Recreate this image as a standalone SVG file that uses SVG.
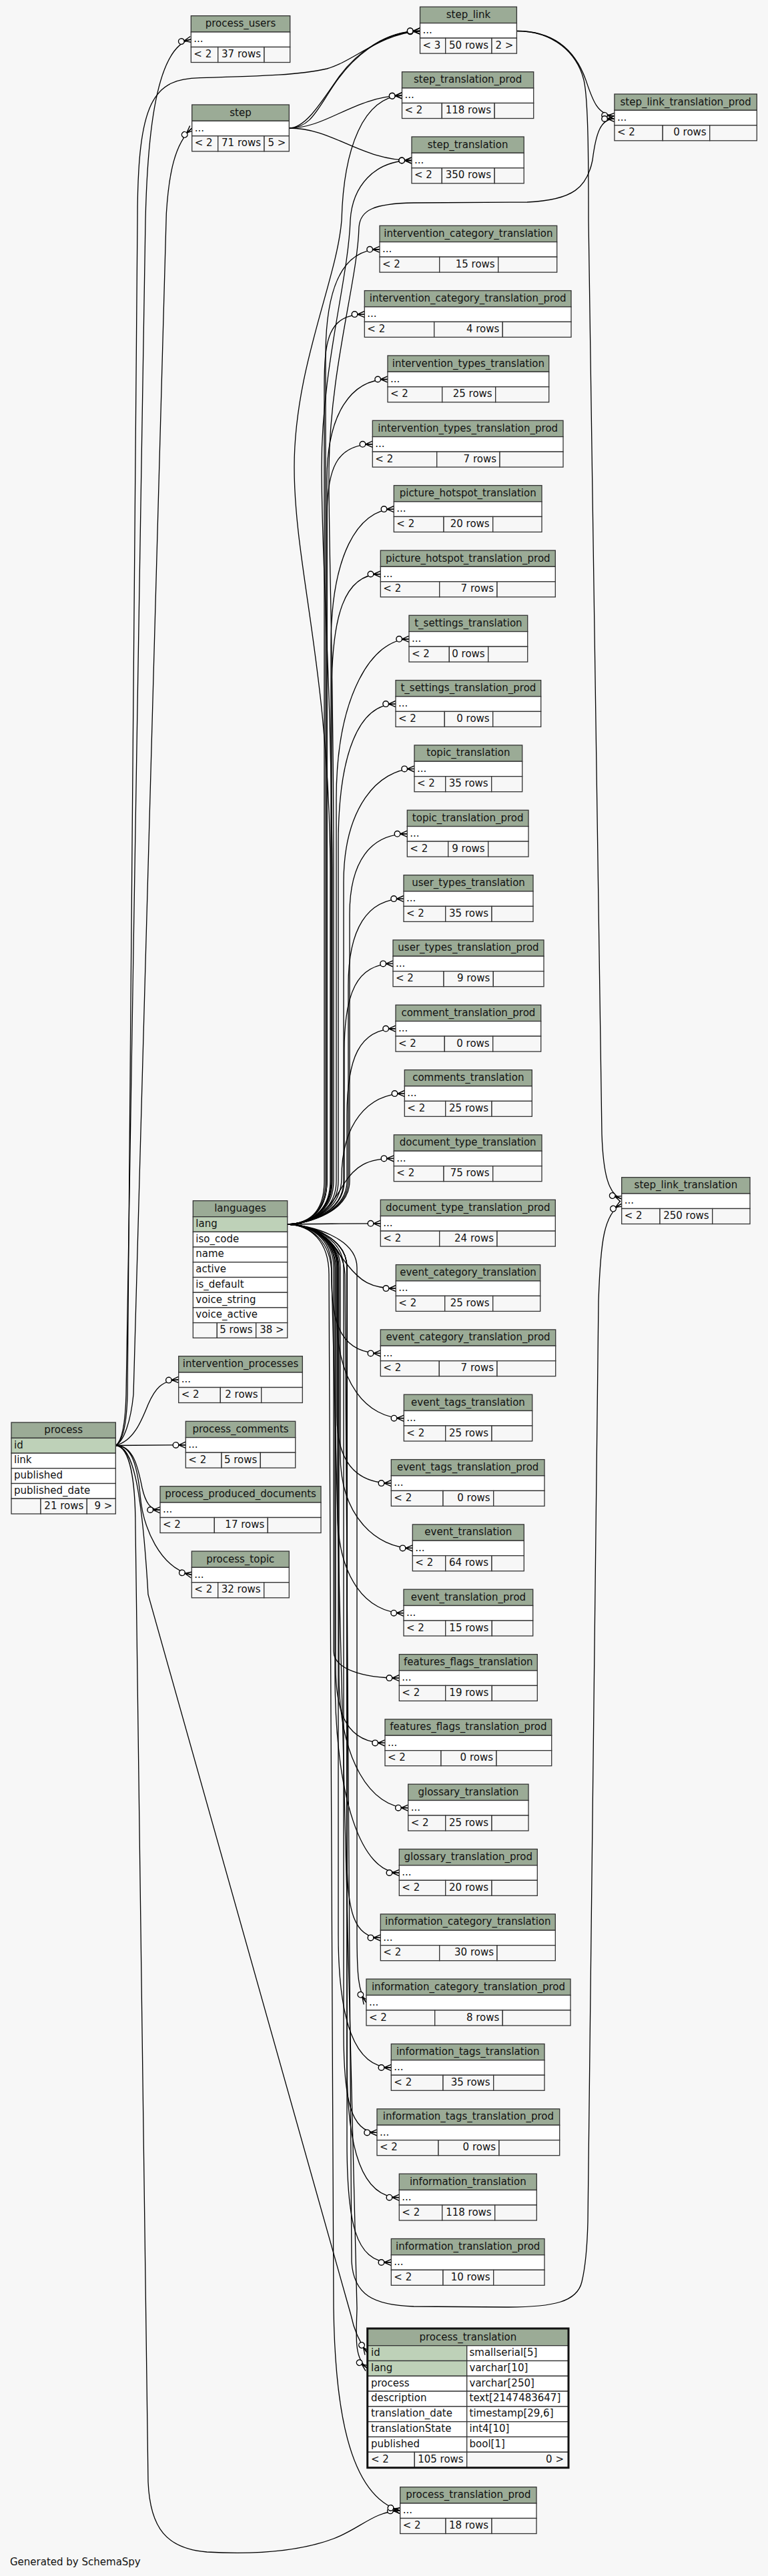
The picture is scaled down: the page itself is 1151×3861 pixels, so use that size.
<svg xmlns="http://www.w3.org/2000/svg" width="1151" height="3861" viewBox="0 0 1151 3861">
<defs>
<style>
.hd{fill:#9bab96;stroke:#333;stroke-width:1.3}
.rw{fill:#fff;stroke:#333;stroke-width:1.3}
.pk{fill:#bed1b8;stroke:#333;stroke-width:1.3}
.ft{fill:#f7f7f7;stroke:#333;stroke-width:1.3}
text{font-family:"DejaVu Sans",Verdana,sans-serif;font-size:15px;fill:#111}
.m{text-anchor:middle}
.e{text-anchor:end}
.ed path{fill:none;stroke:#000;stroke-width:1.3;marker-end:url(#crow)}
</style>
<marker id="crow" markerUnits="userSpaceOnUse" orient="auto" viewBox="-21 -8 22 16" refX="0" refY="0" markerWidth="22" markerHeight="16" overflow="visible">
<path d="M-10.5,0 L0,-4.6 M-10.5,0 L0,0 M-10.5,0 L0,4.6" fill="none" stroke="#000" stroke-width="1.4"/>
<circle cx="-14.8" cy="0" r="4.3" fill="#fff" stroke="#000" stroke-width="1.4"/>
</marker>
</defs>
<rect x="0" y="0" width="1151" height="3861" fill="#f7f7f7"/>

<g class="ed" id="connectors">
<!-- process edges -->
<path d="M173.3,2166.5 C183,2160 188,2130 189,2090 L218,330 C221,200 234,70 286.3,59"/>
<path d="M173.3,2166.5 C185,2160 190,2130 191,2090 L206,330 C206,150 230,118 300,116.7 C400,114 450,112 490,103 C530,92 570,50 629.5,46.5"/>
<path d="M173.3,2166.5 C186,2160 196,2130 200,2090 L249.3,320 C253,260 262,215 287.7,192"/>
<path d="M173.3,2166.5 C200,2160 212,2130 222,2105 C232,2082 242,2069 267.7,2068"/>
<path d="M173.3,2166.5 L278.3,2165.8"/>
<path d="M173.3,2166.5 C200,2166 207,2200 213,2230 C218,2252 225,2263 240,2263.2"/>
<path d="M173.3,2166.5 C195,2166 205,2190 210,2240 C214,2290 240,2350 287.3,2360.5"/>
<path d="M173.3,2166.5 C198,2168 212,2220 222,2390 L526,3470 C530,3490 537,3508 550.7,3527"/>
<path d="M173.3,2166.5 C195,2168 203,2220 203,2290 L222,3720 C225,3790 250,3820 310,3825 C400,3830 460,3820 500,3805 C540,3790 560,3764 599.7,3763"/>
<!-- step edges -->
<path d="M433.3,192 C465,192 475,165 500,128 C525,90 570,47 629.5,46.5"/>
<path d="M433.3,192 C458,192 480,155 508,115 C535,78 580,46 629.5,46.5"/>
<path d="M433.3,192 C490,192 530,145 602.5,143.2"/>
<path d="M433.3,192 C500,192 540,240.5 617,240.5"/>
<!-- step_link edges -->
<path d="M774.4,46.5 C830,46.5 862,75 878,120 C888,150 895,172 920.9,174"/>
<path d="M774.4,46.5 C830,46.5 865,80 875,120 C882,150 882,250 882,330 L902,1700 C904,1760 912,1790 931.7,1797"/>
<!-- languages edges -->
<path d="M430.7,1835 C465,1834 495,1815 495,1770 L495,1300 C493,1000 441,850 441,700 C441,550 505,420 512,330 C515,220 545,146 602.5,143.2"/>
<path d="M430.7,1835 C465,1834 498,1815 498,1770 L498,1300 C496,1000 482,850 482,700 C482,550 522,420 525,330 C528,280 560,240.5 617,240.5"/>
<path d="M430.7,1835 C465,1834 500,1815 500,1770 L500,1300 C500,1000 492,800 493,700 C495,550 536,420 538,340 C540,315 560,305 620,304 L790,303 C860,300 880,280 888,240 C893,200 900,178 920.9,178"/>
<path d="M430.7,1835 C465,1836 515,1860 517,1910 L527,3390 C530,3440 560,3455 620,3457 L760,3458 C830,3458 865,3450 872,3420 C878,3395 880,3370 881,3330 L897,1950 C900,1860 905,1820 931.7,1804"/>
<path d="M430.7,1835 C465,1834 488,1815 488,1770 L488,533.8 C488,429.8 514,373.8 569,373.8"/>
<path d="M430.7,1835 C465,1834 486,1815 486,1770 L486,581.1 C486,509.6 491.3,471.1 546.3,471.1"/>
<path d="M430.7,1835 C465,1834 490,1815 490,1770 L490,718.5 C490,621 526,568.5 581,568.5"/>
<path d="M430.7,1835 C465,1834 490,1815 490,1770 L490,775.8 C490,704.3 503.3,665.8 558.3,665.8"/>
<path d="M430.7,1835 C465,1834 496,1815 496,1770 L496,968.1 C496,834.9 535.3,763.1 590.3,763.1"/>
<path d="M430.7,1835 C465,1834 497,1815 497,1770 L497,1040.5 C497,923.5 515.3,860.5 570.3,860.5"/>
<path d="M430.7,1835 C465,1834 504,1815 504,1770 L504,1197.8 C504,1041.8 558,957.8 613,957.8"/>
<path d="M430.7,1835 C465,1834 507,1815 507,1770 L507,1265.1 C507,1128.6 538,1055.1 593,1055.1"/>
<path d="M430.7,1835 C465,1834 515,1815 515,1770 L515,1322.4 C515,1211.9 566,1152.4 621,1152.4"/>
<path d="M430.7,1835 C465,1834 524,1815 524,1770 L524,1369.8 C524,1291.8 555.3,1249.8 610.3,1249.8"/>
<path d="M430.7,1835 C465,1834 522,1815 522,1770 L522,1477.1 C522,1392.6 550,1347.1 605,1347.1"/>
<path d="M430.7,1835 C465,1834 516,1815 516,1770 L516,1574.4 C516,1489.9 534,1444.4 589,1444.4"/>
<path d="M430.7,1835 C465,1834 520,1815 520,1770 L520,1671.8 C520,1587.3 538,1541.8 593,1541.8"/>
<path d="M430.7,1835 C465,1834 512,1815 512,1765 C512,1684.6 551.3,1639.1 606.3,1639.1"/>
<path d="M430.7,1835 C478,1833 498,1805 515,1775 C532,1748 550,1736.4 590.3,1736.4"/>
<path d="M430.7,1835 C480,1834.5 520,1833.8 570.3,1833.8"/>
<path d="M430.7,1835 C485,1836 500,1870 520,1895 C540,1920 555,1931.1 593.3,1931.1"/>
<path d="M430.7,1835 C465,1836 497,1855 497,1900 L497,1918.4 C497,1989.9 515.3,2028.4 570.3,2028.4"/>
<path d="M430.7,1835 C465,1836 505,1855 505,1900 L505,1975.7 C505,2073.2 550.3,2125.7 605.3,2125.7"/>
<path d="M430.7,1835 C465,1836 505,1855 505,1900 L505,2123.1 C505,2188.1 531.3,2223.1 586.3,2223.1"/>
<path d="M430.7,1835 C465,1836 510,1855 510,1900 L510,2180.4 C510,2271.4 563.3,2320.4 618.3,2320.4"/>
<path d="M430.7,1835 C465,1836 506,1855 506,1900 L506,2267.7 C506,2365.2 550,2417.7 605,2417.7"/>
<path d="M430.7,1835 C465,1836 500,1855 500,1900 L500,2475.1 C500,2501.1 543.3,2515.1 598.3,2515.1"/>
<path d="M430.7,1835 C465,1836 503,1855 503,1900 L503,2497.4 C503,2572.2 522,2612.4 577,2612.4"/>
<path d="M430.7,1835 C465,1836 508,1855 508,1900 L508,2509.7 C508,2639.7 556.7,2709.7 611.7,2709.7"/>
<path d="M430.7,1835 C465,1836 502,1855 502,1900 L502,2507 C502,2702 543.3,2807 598.3,2807"/>
<path d="M430.7,1835 C465,1836 520,1855 520,1900 L520,2784.4 C520,2862.4 530.3,2904.4 570.3,2904.4"/>
<path d="M430.7,1835 C465,1836 535,1855 535,1900 L535,2900 C535,2960 537,2985 549,3001.7"/>
<path d="M430.7,1835 C465,1836 507,1855 507,1900 L507,2899 C507,3029 531.3,3099 586.3,3099"/>
<path d="M430.7,1835 C465,1836 515,1855 515,1900 L515,3046.4 C515,3143.9 525,3196.4 565,3196.4"/>
<path d="M430.7,1835 C465,1836 520,1855 520,1900 L520,3093.7 C520,3223.7 543.3,3293.7 598.3,3293.7"/>
<path d="M430.7,1835 C465,1836 520,1855 520,1900 L520,3211 C520,3328 531.3,3391 586.3,3391"/>
<path d="M430.7,1835 C465,1836 497,1860 497,1910 L535,3460 C534,3500 530,3535 550.7,3549.8"/>
<path d="M430.7,1835 C465,1836 493,1860 493,1910 L500,3460 C502,3600 520,3740 599.7,3763"/>
</g>

<!-- left column -->
<g id="process_users">
<rect class="hd" x="286.3" y="23.7" width="148.4" height="24.3"/><rect class="rw" x="286.3" y="48" width="148.4" height="22.5"/>
<rect class="ft" x="286.3" y="70.5" width="40.4" height="23"/><rect class="ft" x="326.7" y="70.5" width="69.3" height="23"/><rect class="ft" x="396" y="70.5" width="38.7" height="23"/>
<text class="m" x="360.5" y="40.2">process_users</text><text x="290.3" y="63.3">...</text><text x="290.3" y="86">&lt; 2</text><text class="e" x="391" y="86">37 rows</text>
</g>
<g id="step">
<rect class="hd" x="287.7" y="157" width="145.6" height="24.3"/><rect class="rw" x="287.7" y="181.3" width="145.6" height="22.5"/>
<rect class="ft" x="287.7" y="203.8" width="39" height="23"/><rect class="ft" x="326.7" y="203.8" width="69.3" height="23"/><rect class="ft" x="396" y="203.8" width="37.3" height="23"/>
<text class="m" x="360.5" y="173.5">step</text><text x="291.7" y="196.6">...</text><text x="291.7" y="219.3">&lt; 2</text><text class="e" x="391" y="219.3">71 rows</text><text class="e" x="428.3" y="219.3">5 &gt;</text>
</g>
<g id="languages">
<rect class="hd" x="289.3" y="1799.7" width="141.4" height="24"/>
<rect class="pk" x="289.3" y="1823.7" width="141.4" height="22.7"/>
<rect class="rw" x="289.3" y="1846.4" width="141.4" height="22.7"/>
<rect class="rw" x="289.3" y="1869.1" width="141.4" height="22.7"/>
<rect class="rw" x="289.3" y="1891.8" width="141.4" height="22.7"/>
<rect class="rw" x="289.3" y="1914.5" width="141.4" height="22.7"/>
<rect class="rw" x="289.3" y="1937.2" width="141.4" height="22.7"/>
<rect class="rw" x="289.3" y="1959.9" width="141.4" height="22.7"/>
<rect class="ft" x="289.3" y="1982.6" width="36" height="22.7"/><rect class="ft" x="325.3" y="1982.6" width="58.4" height="22.7"/><rect class="ft" x="383.7" y="1982.6" width="47" height="22.7"/>
<text class="m" x="360" y="1816">languages</text>
<text x="293.3" y="1839">lang</text><text x="293.3" y="1861.7">iso_code</text><text x="293.3" y="1884.4">name</text><text x="293.3" y="1907.1">active</text><text x="293.3" y="1929.8">is_default</text><text x="293.3" y="1952.5">voice_string</text><text x="293.3" y="1975.2">voice_active</text>
<text class="e" x="378.7" y="1997.9">5 rows</text><text class="e" x="425.7" y="1997.9">38 &gt;</text>
</g>
<g id="intervention_processes">
<rect class="hd" x="267.7" y="2032.7" width="185.6" height="24.3"/><rect class="rw" x="267.7" y="2057" width="185.6" height="22.5"/>
<rect class="ft" x="267.7" y="2079.5" width="62.6" height="23"/><rect class="ft" x="330.3" y="2079.5" width="61.4" height="23"/><rect class="ft" x="391.7" y="2079.5" width="61.6" height="23"/>
<text class="m" x="360.5" y="2049.2">intervention_processes</text><text x="271.7" y="2072.3">...</text><text x="271.7" y="2095">&lt; 2</text><text class="e" x="386.7" y="2095">2 rows</text>
</g>
<g id="process_comments">
<rect class="hd" x="278.3" y="2130.3" width="164.4" height="24.3"/><rect class="rw" x="278.3" y="2154.6" width="164.4" height="22.5"/>
<rect class="ft" x="278.3" y="2177.1" width="53.7" height="23"/><rect class="ft" x="332" y="2177.1" width="58.3" height="23"/><rect class="ft" x="390.3" y="2177.1" width="52.4" height="23"/>
<text class="m" x="360.5" y="2146.8">process_comments</text><text x="282.3" y="2169.9">...</text><text x="282.3" y="2192.6">&lt; 2</text><text class="e" x="385.3" y="2192.6">5 rows</text>
</g>
<g id="process_produced_documents">
<rect class="hd" x="240" y="2227.7" width="241" height="24.3"/><rect class="rw" x="240" y="2252" width="241" height="22.5"/>
<rect class="ft" x="240" y="2274.5" width="81.3" height="23"/><rect class="ft" x="321.3" y="2274.5" width="80" height="23"/><rect class="ft" x="401.3" y="2274.5" width="79.7" height="23"/>
<text class="m" x="360.5" y="2244.2">process_produced_documents</text><text x="244" y="2267.3">...</text><text x="244" y="2290">&lt; 2</text><text class="e" x="396.3" y="2290">17 rows</text>
</g>
<g id="process_topic">
<rect class="hd" x="287.3" y="2325" width="146" height="24.3"/><rect class="rw" x="287.3" y="2349.3" width="146" height="22.5"/>
<rect class="ft" x="287.3" y="2371.8" width="39.4" height="23"/><rect class="ft" x="326.7" y="2371.8" width="69" height="23"/><rect class="ft" x="395.7" y="2371.8" width="37.6" height="23"/>
<text class="m" x="360.3" y="2341.5">process_topic</text><text x="291.3" y="2364.6">...</text><text x="291.3" y="2387.3">&lt; 2</text><text class="e" x="390.7" y="2387.3">32 rows</text>
</g>
<g id="process">
<rect class="hd" x="17" y="2132" width="156.3" height="23.4"/>
<rect class="pk" x="17" y="2155.4" width="156.3" height="22.7"/>
<rect class="rw" x="17" y="2178.1" width="156.3" height="22.7"/>
<rect class="rw" x="17" y="2200.8" width="156.3" height="22.7"/>
<rect class="rw" x="17" y="2223.5" width="156.3" height="22.7"/>
<rect class="ft" x="17" y="2246.2" width="44" height="22.8"/><rect class="ft" x="61" y="2246.2" width="69.3" height="22.8"/><rect class="ft" x="130.3" y="2246.2" width="43" height="22.8"/>
<text class="m" x="95.2" y="2148">process</text>
<text x="21" y="2170.7">id</text><text x="21" y="2193.4">link</text><text x="21" y="2216.1">published</text><text x="21" y="2238.8">published_date</text>
<text class="e" x="125.3" y="2261.5">21 rows</text><text class="e" x="168.3" y="2261.5">9 &gt;</text>
</g>

<!-- top right -->
<g id="step_link">
<rect class="hd" x="629.5" y="10.3" width="144.9" height="24.3"/><rect class="rw" x="629.5" y="34.6" width="144.9" height="22.5"/>
<rect class="ft" x="629.5" y="57.1" width="38.2" height="23"/><rect class="ft" x="667.7" y="57.1" width="69.3" height="23"/><rect class="ft" x="737" y="57.1" width="37.4" height="23"/>
<text class="m" x="702" y="26.8">step_link</text><text x="633.5" y="49.9">...</text><text x="633.5" y="72.6">&lt; 3</text><text class="e" x="732" y="72.6">50 rows</text><text class="e" x="769.4" y="72.6">2 &gt;</text>
</g>
<g id="step_translation_prod">
<rect class="hd" x="602.5" y="107.7" width="197.2" height="24.3"/><rect class="rw" x="602.5" y="132" width="197.2" height="22.5"/>
<rect class="ft" x="602.5" y="154.5" width="59.8" height="23"/><rect class="ft" x="662.3" y="154.5" width="78.9" height="23"/><rect class="ft" x="741.2" y="154.5" width="58.5" height="23"/>
<text class="m" x="701.1" y="124.2">step_translation_prod</text><text x="606.5" y="147.3">...</text><text x="606.5" y="170">&lt; 2</text><text class="e" x="736.2" y="170">118 rows</text>
</g>
<g id="step_translation">
<rect class="hd" x="617" y="205" width="168.2" height="24.3"/><rect class="rw" x="617" y="229.3" width="168.2" height="22.5"/>
<rect class="ft" x="617" y="251.8" width="45.3" height="23"/><rect class="ft" x="662.3" y="251.8" width="78.9" height="23"/><rect class="ft" x="741.2" y="251.8" width="44" height="23"/>
<text class="m" x="701.1" y="221.5">step_translation</text><text x="621" y="244.6">...</text><text x="621" y="267.3">&lt; 2</text><text class="e" x="736.2" y="267.3">350 rows</text>
</g>
<g id="step_link_translation_prod">
<rect class="hd" x="920.9" y="141" width="213.4" height="24.3"/><rect class="rw" x="920.9" y="165.3" width="213.4" height="22.5"/>
<rect class="ft" x="920.9" y="187.8" width="72.3" height="23"/><rect class="ft" x="993.2" y="187.8" width="70.5" height="23"/><rect class="ft" x="1063.7" y="187.8" width="70.6" height="23"/>
<text class="m" x="1027.6" y="157.5">step_link_translation_prod</text><text x="924.9" y="180.6">...</text><text x="924.9" y="203.3">&lt; 2</text><text class="e" x="1058.7" y="203.3">0 rows</text>
</g>
<g id="step_link_translation">
<rect class="hd" x="931.7" y="1764.7" width="192.3" height="24.3"/><rect class="rw" x="931.7" y="1789" width="192.3" height="22.5"/>
<rect class="ft" x="931.7" y="1811.5" width="57.3" height="23"/><rect class="ft" x="989" y="1811.5" width="78.7" height="23"/><rect class="ft" x="1067.7" y="1811.5" width="56.3" height="23"/>
<text class="m" x="1027.9" y="1781.2">step_link_translation</text><text x="935.7" y="1804.3">...</text><text x="935.7" y="1827">&lt; 2</text><text class="e" x="1062.7" y="1827">250 rows</text>
</g>

<!-- right column -->
<g id="intervention_category_translation"><rect class="hd" x="569" y="338.3" width="265.7" height="24.3"/><rect class="rw" x="569" y="362.6" width="265.7" height="22.5"/><rect class="ft" x="569" y="385.1" width="89.7" height="23"/><rect class="ft" x="658.7" y="385.1" width="88" height="23"/><rect class="ft" x="746.7" y="385.1" width="88" height="23"/><text class="m" x="701.9" y="354.8">intervention_category_translation</text><text x="573" y="377.9">...</text><text x="573" y="400.6">&lt; 2</text><text class="e" x="741.7" y="400.6">15 rows</text></g>
<g id="intervention_category_translation_prod"><rect class="hd" x="546.3" y="435.6" width="309.7" height="24.3"/><rect class="rw" x="546.3" y="459.9" width="309.7" height="22.5"/><rect class="ft" x="546.3" y="482.4" width="104.4" height="23"/><rect class="ft" x="650.7" y="482.4" width="102.6" height="23"/><rect class="ft" x="753.3" y="482.4" width="102.7" height="23"/><text class="m" x="701.2" y="452.1">intervention_category_translation_prod</text><text x="550.3" y="475.2">...</text><text x="550.3" y="497.9">&lt; 2</text><text class="e" x="748.3" y="497.9">4 rows</text></g>
<g id="intervention_types_translation"><rect class="hd" x="581" y="533" width="241.7" height="24.3"/><rect class="rw" x="581" y="557.3" width="241.7" height="22.5"/><rect class="ft" x="581" y="579.8" width="81.7" height="23"/><rect class="ft" x="662.7" y="579.8" width="80" height="23"/><rect class="ft" x="742.7" y="579.8" width="80" height="23"/><text class="m" x="701.9" y="549.5">intervention_types_translation</text><text x="585" y="572.6">...</text><text x="585" y="595.3">&lt; 2</text><text class="e" x="737.7" y="595.3">25 rows</text></g>
<g id="intervention_types_translation_prod"><rect class="hd" x="558.3" y="630.3" width="285.7" height="24.3"/><rect class="rw" x="558.3" y="654.6" width="285.7" height="22.5"/><rect class="ft" x="558.3" y="677.1" width="96.4" height="23"/><rect class="ft" x="654.7" y="677.1" width="94.3" height="23"/><rect class="ft" x="749" y="677.1" width="95" height="23"/><text class="m" x="701.2" y="646.8">intervention_types_translation_prod</text><text x="562.3" y="669.9">...</text><text x="562.3" y="692.6">&lt; 2</text><text class="e" x="744" y="692.6">7 rows</text></g>
<g id="picture_hotspot_translation"><rect class="hd" x="590.3" y="727.6" width="221.7" height="24.3"/><rect class="rw" x="590.3" y="751.9" width="221.7" height="22.5"/><rect class="ft" x="590.3" y="774.4" width="74.7" height="23"/><rect class="ft" x="665" y="774.4" width="73.7" height="23"/><rect class="ft" x="738.7" y="774.4" width="73.3" height="23"/><text class="m" x="701.2" y="744.1">picture_hotspot_translation</text><text x="594.3" y="767.2">...</text><text x="594.3" y="789.9">&lt; 2</text><text class="e" x="733.7" y="789.9">20 rows</text></g>
<g id="picture_hotspot_translation_prod"><rect class="hd" x="570.3" y="825" width="262" height="24.3"/><rect class="rw" x="570.3" y="849.3" width="262" height="22.5"/><rect class="ft" x="570.3" y="871.8" width="88.4" height="23"/><rect class="ft" x="658.7" y="871.8" width="86.3" height="23"/><rect class="ft" x="745" y="871.8" width="87.3" height="23"/><text class="m" x="701.3" y="841.5">picture_hotspot_translation_prod</text><text x="574.3" y="864.6">...</text><text x="574.3" y="887.3">&lt; 2</text><text class="e" x="740" y="887.3">7 rows</text></g>
<g id="t_settings_translation"><rect class="hd" x="613" y="922.3" width="177.7" height="24.3"/><rect class="rw" x="613" y="946.6" width="177.7" height="22.5"/><rect class="ft" x="613" y="969.1" width="60.3" height="23"/><rect class="ft" x="673.3" y="969.1" width="58.4" height="23"/><rect class="ft" x="731.7" y="969.1" width="59" height="23"/><text class="m" x="701.9" y="938.8">t_settings_translation</text><text x="617" y="961.9">...</text><text x="617" y="984.6">&lt; 2</text><text class="e" x="726.7" y="984.6">0 rows</text></g>
<g id="t_settings_translation_prod"><rect class="hd" x="593" y="1019.6" width="217.7" height="24.3"/><rect class="rw" x="593" y="1043.9" width="217.7" height="22.5"/><rect class="ft" x="593" y="1066.4" width="73.3" height="23"/><rect class="ft" x="666.3" y="1066.4" width="72.4" height="23"/><rect class="ft" x="738.7" y="1066.4" width="72" height="23"/><text class="m" x="701.9" y="1036.1">t_settings_translation_prod</text><text x="597" y="1059.2">...</text><text x="597" y="1081.9">&lt; 2</text><text class="e" x="733.7" y="1081.9">0 rows</text></g>
<g id="topic_translation"><rect class="hd" x="621" y="1116.9" width="161.7" height="24.3"/><rect class="rw" x="621" y="1141.2" width="161.7" height="22.5"/><rect class="ft" x="621" y="1163.7" width="46.7" height="23"/><rect class="ft" x="667.7" y="1163.7" width="69" height="23"/><rect class="ft" x="736.7" y="1163.7" width="46" height="23"/><text class="m" x="701.9" y="1133.4">topic_translation</text><text x="625" y="1156.5">...</text><text x="625" y="1179.2">&lt; 2</text><text class="e" x="731.7" y="1179.2">35 rows</text></g>
<g id="topic_translation_prod"><rect class="hd" x="610.3" y="1214.3" width="181.7" height="24.3"/><rect class="rw" x="610.3" y="1238.6" width="181.7" height="22.5"/><rect class="ft" x="610.3" y="1261.1" width="61.4" height="23"/><rect class="ft" x="671.7" y="1261.1" width="60" height="23"/><rect class="ft" x="731.7" y="1261.1" width="60.3" height="23"/><text class="m" x="701.2" y="1230.8">topic_translation_prod</text><text x="614.3" y="1253.9">...</text><text x="614.3" y="1276.6">&lt; 2</text><text class="e" x="726.7" y="1276.6">9 rows</text></g>
<g id="user_types_translation"><rect class="hd" x="605" y="1311.6" width="194" height="24.3"/><rect class="rw" x="605" y="1335.9" width="194" height="22.5"/><rect class="ft" x="605" y="1358.4" width="62.7" height="23"/><rect class="ft" x="667.7" y="1358.4" width="69.3" height="23"/><rect class="ft" x="737" y="1358.4" width="62" height="23"/><text class="m" x="702" y="1328.1">user_types_translation</text><text x="609" y="1351.2">...</text><text x="609" y="1373.9">&lt; 2</text><text class="e" x="732" y="1373.9">35 rows</text></g>
<g id="user_types_translation_prod"><rect class="hd" x="589" y="1408.9" width="226" height="24.3"/><rect class="rw" x="589" y="1433.2" width="226" height="22.5"/><rect class="ft" x="589" y="1455.7" width="76" height="23"/><rect class="ft" x="665" y="1455.7" width="74.3" height="23"/><rect class="ft" x="739.3" y="1455.7" width="75.7" height="23"/><text class="m" x="702" y="1425.4">user_types_translation_prod</text><text x="593" y="1448.5">...</text><text x="593" y="1471.2">&lt; 2</text><text class="e" x="734.3" y="1471.2">9 rows</text></g>
<g id="comment_translation_prod"><rect class="hd" x="593" y="1506.3" width="217.7" height="24.3"/><rect class="rw" x="593" y="1530.6" width="217.7" height="22.5"/><rect class="ft" x="593" y="1553.1" width="73.3" height="23"/><rect class="ft" x="666.3" y="1553.1" width="72.4" height="23"/><rect class="ft" x="738.7" y="1553.1" width="72" height="23"/><text class="m" x="701.9" y="1522.8">comment_translation_prod</text><text x="597" y="1545.9">...</text><text x="597" y="1568.6">&lt; 2</text><text class="e" x="733.7" y="1568.6">0 rows</text></g>
<g id="comments_translation"><rect class="hd" x="606.3" y="1603.6" width="191" height="24.3"/><rect class="rw" x="606.3" y="1627.9" width="191" height="22.5"/><rect class="ft" x="606.3" y="1650.4" width="61.4" height="23"/><rect class="ft" x="667.7" y="1650.4" width="69.3" height="23"/><rect class="ft" x="737" y="1650.4" width="60.3" height="23"/><text class="m" x="701.8" y="1620.1">comments_translation</text><text x="610.3" y="1643.2">...</text><text x="610.3" y="1665.9">&lt; 2</text><text class="e" x="732" y="1665.9">25 rows</text></g>
<g id="document_type_translation"><rect class="hd" x="590.3" y="1700.9" width="221.7" height="24.3"/><rect class="rw" x="590.3" y="1725.2" width="221.7" height="22.5"/><rect class="ft" x="590.3" y="1747.7" width="74.7" height="23"/><rect class="ft" x="665" y="1747.7" width="73.7" height="23"/><rect class="ft" x="738.7" y="1747.7" width="73.3" height="23"/><text class="m" x="701.2" y="1717.4">document_type_translation</text><text x="594.3" y="1740.5">...</text><text x="594.3" y="1763.2">&lt; 2</text><text class="e" x="733.7" y="1763.2">75 rows</text></g>
<g id="document_type_translation_prod"><rect class="hd" x="570.3" y="1798.3" width="262" height="24.3"/><rect class="rw" x="570.3" y="1822.6" width="262" height="22.5"/><rect class="ft" x="570.3" y="1845.1" width="88.4" height="23"/><rect class="ft" x="658.7" y="1845.1" width="86.3" height="23"/><rect class="ft" x="745" y="1845.1" width="87.3" height="23"/><text class="m" x="701.3" y="1814.8">document_type_translation_prod</text><text x="574.3" y="1837.9">...</text><text x="574.3" y="1860.6">&lt; 2</text><text class="e" x="740" y="1860.6">24 rows</text></g>
<g id="event_category_translation"><rect class="hd" x="593.3" y="1895.6" width="216.4" height="24.3"/><rect class="rw" x="593.3" y="1919.9" width="216.4" height="22.5"/><rect class="ft" x="593.3" y="1942.4" width="73.4" height="23"/><rect class="ft" x="666.7" y="1942.4" width="72" height="23"/><rect class="ft" x="738.7" y="1942.4" width="71" height="23"/><text class="m" x="701.5" y="1912.1">event_category_translation</text><text x="597.3" y="1935.2">...</text><text x="597.3" y="1957.9">&lt; 2</text><text class="e" x="733.7" y="1957.9">25 rows</text></g>
<g id="event_category_translation_prod"><rect class="hd" x="570.3" y="1992.9" width="262.4" height="24.3"/><rect class="rw" x="570.3" y="2017.2" width="262.4" height="22.5"/><rect class="ft" x="570.3" y="2039.7" width="88" height="23"/><rect class="ft" x="658.3" y="2039.7" width="86.7" height="23"/><rect class="ft" x="745" y="2039.7" width="87.7" height="23"/><text class="m" x="701.5" y="2009.4">event_category_translation_prod</text><text x="574.3" y="2032.5">...</text><text x="574.3" y="2055.2">&lt; 2</text><text class="e" x="740" y="2055.2">7 rows</text></g>
<g id="event_tags_translation"><rect class="hd" x="605.3" y="2090.2" width="192.4" height="24.3"/><rect class="rw" x="605.3" y="2114.5" width="192.4" height="22.5"/><rect class="ft" x="605.3" y="2137" width="62.4" height="23"/><rect class="ft" x="667.7" y="2137" width="69.3" height="23"/><rect class="ft" x="737" y="2137" width="60.7" height="23"/><text class="m" x="701.5" y="2106.7">event_tags_translation</text><text x="609.3" y="2129.8">...</text><text x="609.3" y="2152.5">&lt; 2</text><text class="e" x="732" y="2152.5">25 rows</text></g>
<g id="event_tags_translation_prod"><rect class="hd" x="586.3" y="2187.6" width="229.7" height="24.3"/><rect class="rw" x="586.3" y="2211.9" width="229.7" height="22.5"/><rect class="ft" x="586.3" y="2234.4" width="77.7" height="23"/><rect class="ft" x="664" y="2234.4" width="75.7" height="23"/><rect class="ft" x="739.7" y="2234.4" width="76.3" height="23"/><text class="m" x="701.2" y="2204.1">event_tags_translation_prod</text><text x="590.3" y="2227.2">...</text><text x="590.3" y="2249.9">&lt; 2</text><text class="e" x="734.7" y="2249.9">0 rows</text></g>
<g id="event_translation"><rect class="hd" x="618.3" y="2284.9" width="167" height="24.3"/><rect class="rw" x="618.3" y="2309.2" width="167" height="22.5"/><rect class="ft" x="618.3" y="2331.7" width="49.4" height="23"/><rect class="ft" x="667.7" y="2331.7" width="69.3" height="23"/><rect class="ft" x="737" y="2331.7" width="48.3" height="23"/><text class="m" x="701.8" y="2301.4">event_translation</text><text x="622.3" y="2324.5">...</text><text x="622.3" y="2347.2">&lt; 2</text><text class="e" x="732" y="2347.2">64 rows</text></g>
<g id="event_translation_prod"><rect class="hd" x="605" y="2382.2" width="193.7" height="24.3"/><rect class="rw" x="605" y="2406.5" width="193.7" height="22.5"/><rect class="ft" x="605" y="2429" width="62.7" height="23"/><rect class="ft" x="667.7" y="2429" width="69.6" height="23"/><rect class="ft" x="737.3" y="2429" width="61.4" height="23"/><text class="m" x="701.9" y="2398.7">event_translation_prod</text><text x="609" y="2421.8">...</text><text x="609" y="2444.5">&lt; 2</text><text class="e" x="732.3" y="2444.5">15 rows</text></g>
<g id="features_flags_translation"><rect class="hd" x="598.3" y="2479.6" width="207" height="24.3"/><rect class="rw" x="598.3" y="2503.9" width="207" height="22.5"/><rect class="ft" x="598.3" y="2526.4" width="69.4" height="23"/><rect class="ft" x="667.7" y="2526.4" width="69.6" height="23"/><rect class="ft" x="737.3" y="2526.4" width="68" height="23"/><text class="m" x="701.8" y="2496.1">features_flags_translation</text><text x="602.3" y="2519.2">...</text><text x="602.3" y="2541.9">&lt; 2</text><text class="e" x="732.3" y="2541.9">19 rows</text></g>
<g id="features_flags_translation_prod"><rect class="hd" x="577" y="2576.9" width="249.7" height="24.3"/><rect class="rw" x="577" y="2601.2" width="249.7" height="22.5"/><rect class="ft" x="577" y="2623.7" width="84" height="23"/><rect class="ft" x="661" y="2623.7" width="83" height="23"/><rect class="ft" x="744" y="2623.7" width="82.7" height="23"/><text class="m" x="701.9" y="2593.4">features_flags_translation_prod</text><text x="581" y="2616.5">...</text><text x="581" y="2639.2">&lt; 2</text><text class="e" x="739" y="2639.2">0 rows</text></g>
<g id="glossary_translation"><rect class="hd" x="611.7" y="2674.2" width="180.3" height="24.3"/><rect class="rw" x="611.7" y="2698.5" width="180.3" height="22.5"/><rect class="ft" x="611.7" y="2721" width="56" height="23"/><rect class="ft" x="667.7" y="2721" width="69.3" height="23"/><rect class="ft" x="737" y="2721" width="55" height="23"/><text class="m" x="701.9" y="2690.7">glossary_translation</text><text x="615.7" y="2713.8">...</text><text x="615.7" y="2736.5">&lt; 2</text><text class="e" x="732" y="2736.5">25 rows</text></g>
<g id="glossary_translation_prod"><rect class="hd" x="598.3" y="2771.5" width="207" height="24.3"/><rect class="rw" x="598.3" y="2795.8" width="207" height="22.5"/><rect class="ft" x="598.3" y="2818.3" width="69.4" height="23"/><rect class="ft" x="667.7" y="2818.3" width="69.3" height="23"/><rect class="ft" x="737" y="2818.3" width="68.3" height="23"/><text class="m" x="701.8" y="2788">glossary_translation_prod</text><text x="602.3" y="2811.1">...</text><text x="602.3" y="2833.8">&lt; 2</text><text class="e" x="732" y="2833.8">20 rows</text></g>
<g id="information_category_translation"><rect class="hd" x="570.3" y="2868.9" width="262" height="24.3"/><rect class="rw" x="570.3" y="2893.2" width="262" height="22.5"/><rect class="ft" x="570.3" y="2915.7" width="88.4" height="23"/><rect class="ft" x="658.7" y="2915.7" width="86.3" height="23"/><rect class="ft" x="745" y="2915.7" width="87.3" height="23"/><text class="m" x="701.3" y="2885.4">information_category_translation</text><text x="574.3" y="2908.5">...</text><text x="574.3" y="2931.2">&lt; 2</text><text class="e" x="740" y="2931.2">30 rows</text></g>
<g id="information_category_translation_prod"><rect class="hd" x="549" y="2966.2" width="306" height="24.3"/><rect class="rw" x="549" y="2990.5" width="306" height="22.5"/><rect class="ft" x="549" y="3013" width="102.7" height="23"/><rect class="ft" x="651.7" y="3013" width="101.6" height="23"/><rect class="ft" x="753.3" y="3013" width="101.7" height="23"/><text class="m" x="702" y="2982.7">information_category_translation_prod</text><text x="553" y="3005.8">...</text><text x="553" y="3028.5">&lt; 2</text><text class="e" x="748.3" y="3028.5">8 rows</text></g>
<g id="information_tags_translation"><rect class="hd" x="586.3" y="3063.5" width="229.7" height="24.3"/><rect class="rw" x="586.3" y="3087.8" width="229.7" height="22.5"/><rect class="ft" x="586.3" y="3110.3" width="77.7" height="23"/><rect class="ft" x="664" y="3110.3" width="75.7" height="23"/><rect class="ft" x="739.7" y="3110.3" width="76.3" height="23"/><text class="m" x="701.2" y="3080">information_tags_translation</text><text x="590.3" y="3103.1">...</text><text x="590.3" y="3125.8">&lt; 2</text><text class="e" x="734.7" y="3125.8">35 rows</text></g>
<g id="information_tags_translation_prod"><rect class="hd" x="565" y="3160.9" width="273.7" height="24.3"/><rect class="rw" x="565" y="3185.2" width="273.7" height="22.5"/><rect class="ft" x="565" y="3207.7" width="92" height="23"/><rect class="ft" x="657" y="3207.7" width="91" height="23"/><rect class="ft" x="748" y="3207.7" width="90.7" height="23"/><text class="m" x="701.9" y="3177.4">information_tags_translation_prod</text><text x="569" y="3200.5">...</text><text x="569" y="3223.2">&lt; 2</text><text class="e" x="743" y="3223.2">0 rows</text></g>
<g id="information_translation"><rect class="hd" x="598.3" y="3258.2" width="206" height="24.3"/><rect class="rw" x="598.3" y="3282.5" width="206" height="22.5"/><rect class="ft" x="598.3" y="3305" width="64.4" height="23"/><rect class="ft" x="662.7" y="3305" width="79" height="23"/><rect class="ft" x="741.7" y="3305" width="62.6" height="23"/><text class="m" x="701.3" y="3274.7">information_translation</text><text x="602.3" y="3297.8">...</text><text x="602.3" y="3320.5">&lt; 2</text><text class="e" x="736.7" y="3320.5">118 rows</text></g>
<g id="information_translation_prod"><rect class="hd" x="586.3" y="3355.5" width="229.7" height="24.3"/><rect class="rw" x="586.3" y="3379.8" width="229.7" height="22.5"/><rect class="ft" x="586.3" y="3402.3" width="77.7" height="23"/><rect class="ft" x="664" y="3402.3" width="75.7" height="23"/><rect class="ft" x="739.7" y="3402.3" width="76.3" height="23"/><text class="m" x="701.2" y="3372">information_translation_prod</text><text x="590.3" y="3395.1">...</text><text x="590.3" y="3417.8">&lt; 2</text><text class="e" x="734.7" y="3417.8">10 rows</text></g>

<g id="process_translation">
<rect class="hd" x="550.7" y="3490" width="301.3" height="25.7"/>
<rect class="pk" x="550.7" y="3515.7" width="149" height="22.8"/><rect class="rw" x="699.7" y="3515.7" width="152.3" height="22.8"/>
<rect class="pk" x="550.7" y="3538.5" width="149" height="22.8"/><rect class="rw" x="699.7" y="3538.5" width="152.3" height="22.8"/>
<rect class="rw" x="550.7" y="3561.3" width="149" height="22.8"/><rect class="rw" x="699.7" y="3561.3" width="152.3" height="22.8"/>
<rect class="rw" x="550.7" y="3584.1" width="149" height="22.8"/><rect class="rw" x="699.7" y="3584.1" width="152.3" height="22.8"/>
<rect class="rw" x="550.7" y="3606.9" width="149" height="22.8"/><rect class="rw" x="699.7" y="3606.9" width="152.3" height="22.8"/>
<rect class="rw" x="550.7" y="3629.7" width="149" height="22.8"/><rect class="rw" x="699.7" y="3629.7" width="152.3" height="22.8"/>
<rect class="rw" x="550.7" y="3652.5" width="149" height="22.8"/><rect class="rw" x="699.7" y="3652.5" width="152.3" height="22.8"/>
<rect class="ft" x="550.7" y="3675.3" width="70.6" height="23.4"/><rect class="ft" x="621.3" y="3675.3" width="78.4" height="23.4"/><rect class="ft" x="699.7" y="3675.3" width="152.3" height="23.4"/>
<rect x="550.7" y="3490" width="301.3" height="208.7" fill="none" stroke="#111" stroke-width="3"/>
<text class="m" x="701.4" y="3507.5">process_translation</text>
<text x="556" y="3531">id</text><text x="703.5" y="3531">smallserial[5]</text>
<text x="556" y="3553.8">lang</text><text x="703.5" y="3553.8">varchar[10]</text>
<text x="556" y="3576.6">process</text><text x="703.5" y="3576.6">varchar[250]</text>
<text x="556" y="3599.4">description</text><text x="703.5" y="3599.4">text[2147483647]</text>
<text x="556" y="3622.2">translation_date</text><text x="703.5" y="3622.2">timestamp[29,6]</text>
<text x="556" y="3645">translationState</text><text x="703.5" y="3645">int4[10]</text>
<text x="556" y="3667.8">published</text><text x="703.5" y="3667.8">bool[1]</text>
<text x="556" y="3691">&lt; 2</text><text class="e" x="694.7" y="3691">105 rows</text><text class="e" x="845" y="3691">0 &gt;</text>
</g>
<g id="process_translation_prod">
<rect class="hd" x="599.7" y="3727.7" width="204.3" height="24.3"/><rect class="rw" x="599.7" y="3752" width="204.3" height="22.5"/>
<rect class="ft" x="599.7" y="3774.5" width="68.3" height="23"/><rect class="ft" x="668" y="3774.5" width="69" height="23"/><rect class="ft" x="737" y="3774.5" width="67" height="23"/>
<text class="m" x="701.9" y="3744.2">process_translation_prod</text><text x="603.7" y="3767.3">...</text><text x="603.7" y="3790">&lt; 2</text><text class="e" x="732" y="3790">18 rows</text>
</g>
<text x="15" y="3845">Generated by SchemaSpy</text>
</svg>
